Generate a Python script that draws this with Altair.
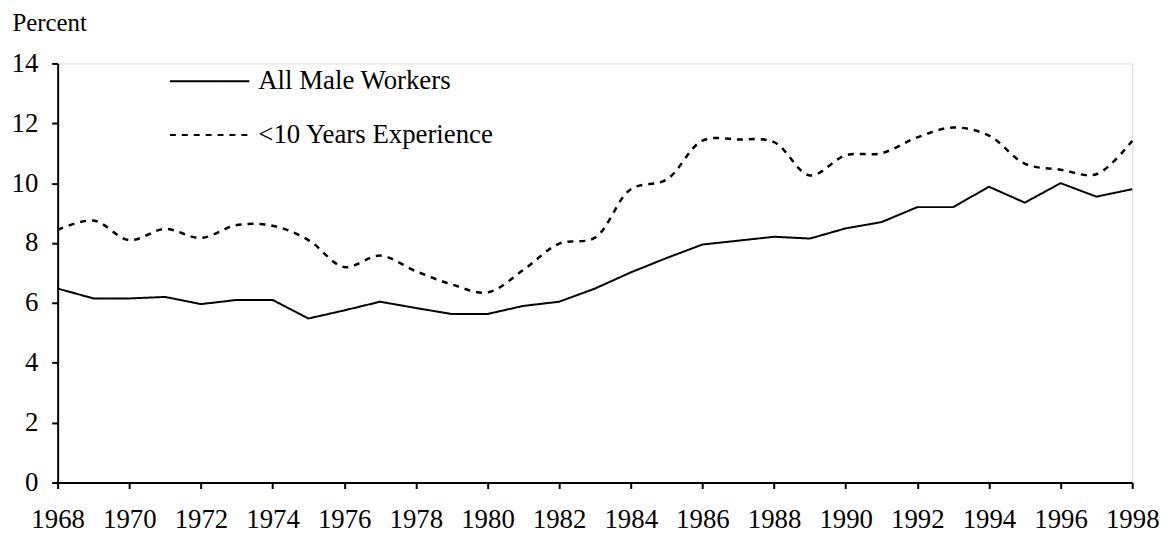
import altair as alt
import pandas as pd

years = list(range(1968, 1999))
all_male = [6.48, 6.15, 6.15, 6.2, 5.96, 6.1, 6.1, 5.48, 5.75, 6.04, 5.83, 5.63, 5.63,
            5.9, 6.04, 6.48, 7.02, 7.5, 7.95, 8.08, 8.21, 8.15, 8.49, 8.7, 9.2, 9.2,
            9.88, 9.35, 10.0, 9.55, 9.8]
under10 = [8.44, 8.75, 8.1, 8.47, 8.17, 8.6, 8.58, 8.1, 7.2, 7.58, 7.06, 6.62, 6.35,
           7.1, 7.98, 8.18, 9.8, 10.12, 11.42, 11.46, 11.37, 10.26, 10.93, 11.0, 11.53,
           11.86, 11.59, 10.65, 10.45, 10.3, 11.42]
series_names = ["All Male Workers", "<10 Years Experience"]
x_ticks = list(range(1968, 1999, 2))
y_ticks = list(range(0, 15, 2))

df_a = pd.DataFrame({"year": years, "value": all_male, "series": series_names[0]})
df_b = pd.DataFrame({"year": years, "value": under10, "series": series_names[1]})

FONT = "Liberation Serif"
FS = 27

x_enc = alt.X("year:Q", scale=alt.Scale(domain=[1968, 1998], nice=False, zero=False),
              axis=alt.Axis(values=x_ticks, format="d", title=None, grid=False,
                            tickSize=6, labelPadding=18, labelFontSize=FS,
                            labelFont=FONT, labelColor="#000", domainColor="#000",
                            tickColor="#000", domainWidth=2, tickWidth=2,
                            labelFlush=False, labelOverlap=False))
y_enc = alt.Y("value:Q", scale=alt.Scale(domain=[0, 14], nice=False),
              axis=alt.Axis(values=y_ticks, title="Percent", titleAngle=0,
                            titleX=-46, titleY=-33, titleAlign="left",
                            titleBaseline="alphabetic", titleFont=FONT,
                            titleFontSize=25, titleFontWeight="normal",
                            titleColor="#000", grid=False, tickSize=6,
                            labelPadding=14, labelFontSize=FS, labelFont=FONT,
                            labelColor="#000", domainColor="#000", tickColor="#000",
                            domainWidth=2, tickWidth=2))
dash_enc = alt.StrokeDash("series:N",
                          scale=alt.Scale(domain=series_names, range=[[1, 0], [6, 6]]),
                          legend=alt.Legend(title=None, orient="none", legendX=112,
                                            legendY=-23, symbolType="stroke",
                                            symbolSize=6400, symbolStrokeWidth=2,
                                            symbolStrokeColor="#000",
                                            labelFont=FONT, labelFontSize=FS,
                                            labelColor="#000", rowPadding=0,
                                            labelOffset=8, labelLimit=500))

solid = alt.Chart(df_a).mark_line(color="#000", strokeWidth=2).encode(
    x=x_enc, y=y_enc, strokeDash=dash_enc)
dashed = alt.Chart(df_b).mark_line(color="#000", strokeWidth=2.5,
                                   interpolate="catmull-rom").encode(
    x=x_enc, y=y_enc, strokeDash=dash_enc)

chart = alt.layer(solid, dashed).properties(
    width=1082, height=422,
    autosize=alt.AutoSizeParams(type="none"),
    padding={"left": 50, "top": 54, "right": 34, "bottom": 50},
).configure_view(stroke=None).configure(background="#fff")

chart.save("out.html", embed_options={"renderer": "svg", "actions": False})
